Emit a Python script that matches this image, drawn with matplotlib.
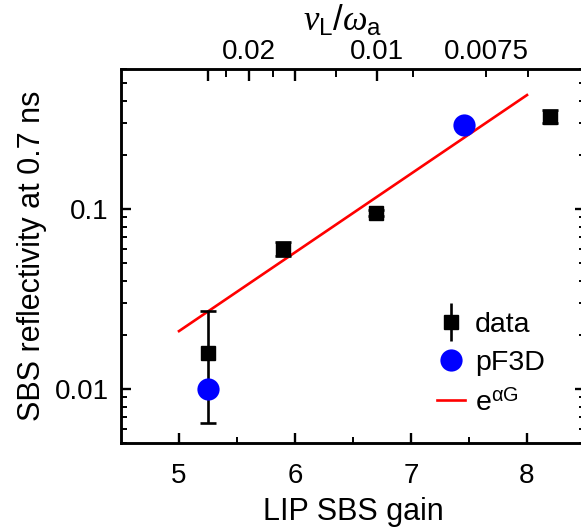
import matplotlib
matplotlib.use("Agg")
import matplotlib.pyplot as plt
from matplotlib.lines import Line2D
from matplotlib.legend_handler import HandlerTuple

plt.rcParams['font.family'] = ['Liberation Sans', 'DejaVu Sans']
plt.rcParams['mathtext.fontset'] = 'custom'
plt.rcParams['mathtext.rm'] = 'Liberation Sans'
plt.rcParams['mathtext.it'] = 'Liberation Serif:italic'
plt.rcParams['mathtext.bf'] = 'Liberation Sans:bold'

# Measured SBS reflectivity vs. linear SBS gain
gain_data = [5.25, 5.9, 6.7, 8.2]
refl_data = [0.0158, 0.060, 0.095, 0.325]
refl_err_lo = [0.0093, 0.005, 0.004, 0.025]
refl_err_hi = [0.0113, 0.006, 0.004, 0.030]

# pF3D simulation points
gain_pf3d = [5.25, 7.46]
refl_pf3d = [0.010, 0.295]

# exponential fit e^(alpha G), straight on the log axis
gain_fit = [5.0, 8.0]
refl_fit = [0.021, 0.43]

# top axis: nu_L / omega_a
top_major_pos = [5.254, 5.601, 6.002, 6.704]
top_major_lab = ['', '0.02', '', '0.01']
top_minor_pos = [5.406, 5.808, 6.354, 7.016, 7.649, 8.007]
top_minor_lab = ['', '', '', '', '0.0075', '']

x_ticks = [5, 6, 7, 8]
x_minor = [5.5, 6.5, 7.5]
y_ticks = [0.01, 0.1]
y_tick_labels = ['0.01', '0.1']

W, H = 581, 531
fig = plt.figure(figsize=(W / 100, H / 100), dpi=100)
left, right, top, bottom = 121, 585, 69, 443.3
ax = fig.add_axes([left / W, (H - bottom) / H, (right - left) / W, (bottom - top) / H])

tick_fs = 20
label_fs = 22
legend_fs = 20.5

ax.plot(gain_fit, refl_fit, color='#ff0000', lw=1.9, zorder=2)
ax.errorbar(gain_data, refl_data, yerr=[refl_err_lo, refl_err_hi], fmt='s', color='black',
            ms=9.5, elinewidth=1.9, capsize=6, capthick=1.9, zorder=3)
ax.plot(gain_pf3d, refl_pf3d, 'o', color='#0000ff', ms=16, zorder=4, mec='none')

ax.set_yscale('log')
ax.set_xlim(4.5, 8.5)
ax.set_ylim(0.005, 0.6)

ax.set_xticks(x_ticks)
ax.set_xticks(x_minor, minor=True)
ax.set_yticks(y_ticks, y_tick_labels)
ax.yaxis.set_minor_formatter(matplotlib.ticker.NullFormatter())

for s in ax.spines.values():
    s.set_linewidth(1.8)

ax.tick_params(which='major', direction='in', length=7.5, width=1.7, labelsize=tick_fs,
               right=True, top=False)
ax.tick_params(axis='x', which='major', pad=14)
ax.tick_params(axis='y', which='major', pad=9)
ax.tick_params(which='minor', direction='in', length=4, width=1.4, right=True, top=False)

ax.set_xlabel('LIP SBS gain', fontsize=label_fs, labelpad=6)
ax.set_ylabel('SBS reflectivity at 0.7 ns', fontsize=label_fs, labelpad=5)

# secondary top axis
ax2 = ax.twiny()
ax2.set_xlim(ax.get_xlim())
ax2.set_xticks(top_major_pos, top_major_lab)
ax2.set_xticks(top_minor_pos, top_minor_lab, minor=True)
ax2.tick_params(which='major', direction='in', length=8.5, width=1.7, labelsize=tick_fs, pad=3)
ax2.tick_params(which='minor', direction='in', length=5.5, width=1.4, labelsize=tick_fs, pad=3)
for s in ax2.spines.values():
    s.set_linewidth(1.8)

fig.text(343 / W, 1 - 20 / H, r'$\nu_{\mathrm{L}}/\omega_{\mathrm{a}}$', fontsize=25,
         ha='center', va='center')

# legend handles
h_bar = Line2D([], [], ls='none', marker='|', ms=27, mew=1.9, color='black')
h_sq = Line2D([], [], ls='none', marker='s', ms=9.5, color='black')
h_pf = Line2D([], [], ls='none', marker='o', ms=16, color='#0000ff', mec='none')
h_fit = Line2D([], [], color='#ff0000', lw=1.9)
leg = ax.legend([(h_bar, h_sq), h_pf, h_fit], ['data', 'pF3D', r'e$^{\mathrm{αG}}$'],
                handler_map={tuple: HandlerTuple(ndivide=1, pad=0)},
                loc='upper left', bbox_to_anchor=(0.68, 0.35), frameon=False,
                fontsize=legend_fs, handlelength=1.0, handletextpad=0.35,
                labelspacing=0.42, borderpad=0, borderaxespad=0, numpoints=1)

fig.savefig('out.png', dpi=100)
